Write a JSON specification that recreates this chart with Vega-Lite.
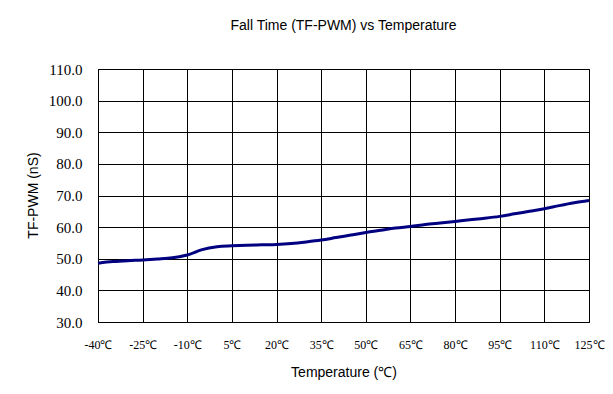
{
  "$schema": "https://vega.github.io/schema/vega-lite/v6.json",
  "width": 491,
  "height": 253,
  "autosize": "none",
  "padding": {"left": 98, "top": 69, "right": 24, "bottom": 72},
  "background": "white",
  "title": {
    "text": "Fall Time (TF-PWM) vs Temperature",
    "font": "Liberation Sans",
    "fontSize": 14,
    "fontWeight": "normal",
    "color": "black",
    "anchor": "middle",
    "offset": 29
  },
  "config": {
    "view": {"stroke": "black", "strokeWidth": 1}
  },
  "data": {
    "values": [
      {"t": -40, "v": 48.6}, {"t": -35, "v": 49.1}, {"t": -30, "v": 49.4}, {"t": -25, "v": 49.6},
      {"t": -20, "v": 49.9}, {"t": -15, "v": 50.3}, {"t": -10, "v": 51.2}, {"t": -5, "v": 52.9},
      {"t": 0, "v": 53.8}, {"t": 5, "v": 54.1}, {"t": 10, "v": 54.3}, {"t": 15, "v": 54.4},
      {"t": 20, "v": 54.5}, {"t": 25, "v": 54.8}, {"t": 30, "v": 55.3}, {"t": 35, "v": 55.9},
      {"t": 40, "v": 56.7}, {"t": 45, "v": 57.5}, {"t": 50, "v": 58.3}, {"t": 55, "v": 59.0},
      {"t": 60, "v": 59.7}, {"t": 65, "v": 60.2}, {"t": 70, "v": 60.8}, {"t": 75, "v": 61.3},
      {"t": 80, "v": 61.8}, {"t": 85, "v": 62.3}, {"t": 90, "v": 62.8}, {"t": 95, "v": 63.4},
      {"t": 100, "v": 64.2}, {"t": 105, "v": 65.0}, {"t": 110, "v": 65.8}, {"t": 115, "v": 66.8},
      {"t": 120, "v": 67.7}, {"t": 125, "v": 68.4}
    ]
  },
  "mark": {"type": "line", "color": "#000080", "strokeWidth": 3, "interpolate": "monotone"},
  "encoding": {
    "x": {
      "field": "t",
      "type": "quantitative",
      "scale": {"domain": [-40, 125], "nice": false, "zero": false},
      "axis": {
        "values": [-40, -25, -10, 5, 20, 35, 50, 65, 80, 95, 110, 125],
        "labelExpr": "datum.value + '℃'",
        "labelOverlap": false,
        "labelBound": false,
        "labelFlush": false,
        "grid": true,
        "gridColor": "black",
        "gridOpacity": 1,
        "gridWidth": 1,
        "domainColor": "black",
        "ticks": false,
        "labelFont": "Times New Roman, Liberation Serif, serif",
        "labelFontSize": 12,
        "labelColor": "black",
        "labelPadding": 17,
        "title": "Temperature (℃)",
        "titleFont": "Liberation Sans",
        "titleFontSize": 14,
        "titleFontWeight": "normal",
        "titleColor": "black",
        "titleY": 50,
        "titleBaseline": "middle"
      }
    },
    "y": {
      "field": "v",
      "type": "quantitative",
      "scale": {"domain": [30, 110], "nice": false, "zero": false},
      "axis": {
        "values": [30, 40, 50, 60, 70, 80, 90, 100, 110],
        "format": ".1f",
        "grid": true,
        "gridColor": "black",
        "gridOpacity": 1,
        "gridWidth": 1,
        "domainColor": "black",
        "ticks": false,
        "labelFont": "Times New Roman, Liberation Serif, serif",
        "labelFontSize": 15,
        "labelColor": "black",
        "labelPadding": 16,
        "labelOverlap": false,
        "title": "TF-PWM (nS)",
        "titleFont": "Liberation Sans",
        "titleFontSize": 14,
        "titleFontWeight": "normal",
        "titleColor": "black",
        "titleX": -65,
        "titleY": 126,
        "titleBaseline": "middle",
        "titleAlign": "center"
      }
    }
  }
}
